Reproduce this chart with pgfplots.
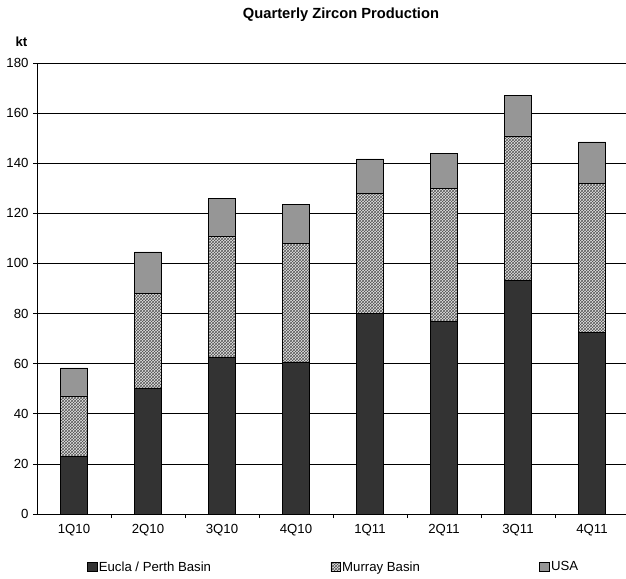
\documentclass[border=0pt]{standalone}
\usepackage{fontspec}
\setmainfont{Liberation Sans}
\usepackage{pgfplots}
\pgfplotsset{compat=1.18}
\usetikzlibrary{patterns}

\definecolor{eucla}{HTML}{333333}
\definecolor{usa}{HTML}{969696}
\definecolor{murraybg}{HTML}{E6E6E6}
\definecolor{murrayln}{HTML}{555555}

\begin{document}
\begin{tikzpicture}
% picture frame: 626 x 578, axis origin at pixel (37,514)
\useasboundingbox (-37pt,-64pt) rectangle (589pt,514pt);
\begin{axis}[
    at={(0,0)}, anchor=south west,
    scale only axis,
    width=592pt, height=451pt,
    ybar stacked,
    bar width=27pt,
    xmin=-0.5, xmax=7.5,
    ymin=0, ymax=180,
    ytick={0,20,...,180},
    xtick={0,...,7},
    xticklabels={1Q10,2Q10,3Q10,4Q10,1Q11,2Q11,3Q11,4Q11},
    minor xtick={0.5,1.5,...,6.5},
    axis x line*=bottom,
    axis y line*=left,
    axis line style={black, line width=0.7pt, -},
    tick align=outside,
    major tick length=4pt,
    minor tick length=4pt,
    major x tick style={draw=none},
    minor x tick style={black, line width=0.7pt},
    ytick style={black, line width=0.7pt},
    ymajorgrids,
    major grid style={black, line width=0.6pt},
    tick label style={font=\fontsize{13.2}{15}\selectfont},
    /pgf/number format/assume math mode=true,
    yticklabel style={xshift=-1pt},
    xticklabel style={yshift=-3pt},
    legend columns=3,
    legend cell align=left,
    legend image code/.code={\draw[#1, line width=0.6pt] (0pt,-4.5pt) rectangle (9.5pt,4.5pt);},
    legend style={
        at={(axis description cs:0.0845,-0.1175)}, anchor=west,
        draw=none, fill=none, inner sep=0pt,
        font=\fontsize{13.2}{15}\selectfont,
        nodes={inner xsep=1.5pt, inner ysep=0pt},
        /tikz/every even column/.append style={column sep=118pt},
    },
]
\addplot[fill=eucla, draw=black, line width=0.6pt] coordinates {
    (0,23.1) (1,50.3) (2,62.5) (3,60.7) (4,80.2) (5,77.0) (6,93.4) (7,72.6)
};
\addplot[fill=murraybg, draw=black, line width=0.6pt,
         postaction={pattern=crosshatch, pattern color=murrayln}] coordinates {
    (0,24.0) (1,37.9) (2,48.5) (3,47.3) (4,47.9) (5,53.1) (6,57.5) (7,59.4)
};
\addplot[fill=usa, draw=black, line width=0.6pt] coordinates {
    (0,11.2) (1,16.4) (2,15.0) (3,15.5) (4,13.6) (5,13.9) (6,16.3) (7,16.5)
};
\legend{Eucla / Perth Basin, Murray Basin, USA}
\end{axis}
\node[font=\fontsize{14.7}{17}\selectfont\bfseries] at (304pt,499pt) {Quarterly Zircon Production};
\node[font=\fontsize{13.2}{15}\selectfont\bfseries] at (-15.5pt,472pt) {kt};
\end{tikzpicture}
\end{document}
